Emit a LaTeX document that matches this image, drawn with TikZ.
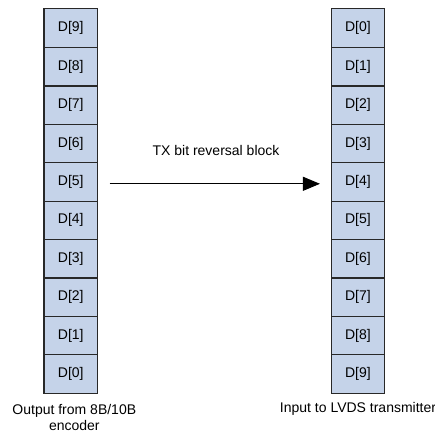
\documentclass[tikz,border=0pt]{standalone}
\usepackage{fontspec}
\setmainfont{Liberation Sans}
\usetikzlibrary{arrows.meta}
\definecolor{cellfill}{RGB}{197,211,233}
\definecolor{cellline}{RGB}{40,40,40}
\begin{document}
\begin{tikzpicture}[x=1pt,y=1pt,
  cell/.style={fill=cellfill,minimum height=38.4pt,inner sep=0pt,font=\fontsize{14}{16}\selectfont},
  border/.style={cellline,line width=1.3pt},
  lbl/.style={inner sep=0pt,font=\fontsize{14}{16}\selectfont,align=center}]
\useasboundingbox (0,0) rectangle (435,-434);
\foreach \i in {0,...,9}{
  \pgfmathtruncatemacro{\ld}{9-\i}
  \node[cell,minimum width=53pt] (L\ld) at (70.8,{-(9+38.4*(\i+0.5))}) {D[\ld]};
  \node[cell,minimum width=52.5pt] (R\i) at (357.9,{-(9+38.4*(\i+0.5))}) {D[\i]};
}
\draw[border] (L9.north west) rectangle (L0.south east);
\draw[border] (R0.north west) rectangle (R9.south east);
\foreach \i in {1,...,9}{
  \draw[border] (L\i.south west) -- (L\i.south east);
}
\foreach \i in {0,...,8}{
  \draw[border] (R\i.south west) -- (R\i.south east);
}
\draw[line width=1pt,-{Triangle[length=17pt,width=14pt]}] ([xshift=12pt,yshift=-2pt]L5.east) -- ([xshift=-11.5pt,yshift=-2pt]R4.west);
\node[lbl,anchor=base] (tx) at (216,-155.7) {TX bit reversal block};
\node[lbl,anchor=base] (out) at (74.3,-414) {Output from 8B/10B};
\node[lbl,anchor=base] (enc) at (74.3,-430) {encoder};
\node[lbl,anchor=base] (in) at (358,-412.7) {Input to LVDS transmitter};
\end{tikzpicture}
\end{document}
